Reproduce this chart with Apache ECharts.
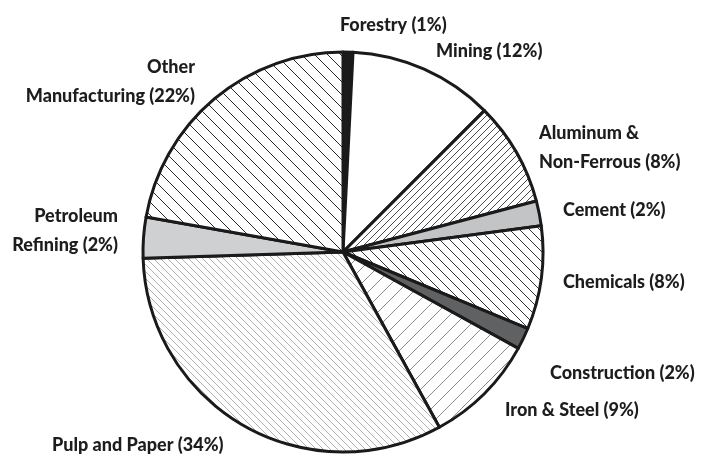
<!DOCTYPE html>
<html>
<head>
<meta charset="utf-8">
<script src="https://cdn.jsdelivr.net/npm/echarts@6/dist/echarts.min.js"></script>
<style>
  html, body { margin: 0; padding: 0; background: #fff; }
  #chart { width: 705px; height: 458px; }
</style>
</head>
<body>
<div id="chart"></div>
<script>
// sectors, clockwise from 12 o'clock
const categories = ['Forestry', 'Mining', 'Aluminum &\nNon-Ferrous', 'Cement', 'Chemicals',
  'Construction', 'Iron & Steel', 'Pulp and Paper', 'Petroleum\nRefining', 'Other\nManufacturing']
// printed percentages
const labelPct = [1, 12, 8, 2, 8, 2, 9, 34, 2, 22]
// arc sizes as drawn in the picture
const values = [0.8, 11.7, 8.4, 2, 8.35, 1.75, 9, 32.5, 3.3, 22.2]

// label anchors [x, y, align]
const labelPos = [
  [340, 25, 'left'], [436, 51, 'left'], [539, 148, 'left'], [563, 210, 'left'],
  [563, 282, 'left'], [550, 373, 'left'], [505, 410, 'left'], [52, 445, 'left'],
  [118, 231, 'right'], [195, 82, 'right']
]

function hatch(n, dir, stroke, w) {
  const c = document.createElement('canvas')
  c.width = n
  c.height = n
  const ctx = c.getContext('2d')
  ctx.fillStyle = '#fff'
  ctx.fillRect(0, 0, n, n)
  ctx.strokeStyle = stroke
  ctx.lineWidth = w
  ctx.beginPath()
  if (dir === '/') {
    ctx.moveTo(-1, n + 1); ctx.lineTo(n + 1, -1)
    ctx.moveTo(-1, 1); ctx.lineTo(1, -1)
    ctx.moveTo(n - 1, n + 1); ctx.lineTo(n + 1, n - 1)
  } else {
    ctx.moveTo(-1, -1); ctx.lineTo(n + 1, n + 1)
    ctx.moveTo(n - 1, -1); ctx.lineTo(n + 1, 1)
    ctx.moveTo(-1, n - 1); ctx.lineTo(1, n + 1)
  }
  ctx.stroke()
  return { image: c, repeat: 'repeat' }
}

const fills = [
  '#1c1a1b',
  '#ffffff',
  hatch(7, '/', '#4a4a4a', 1),
  '#c3c4c6',
  hatch(10, '\\', '#333', 1),
  '#606163',
  hatch(15, '/', '#8a8a8a', 1),
  hatch(7, '\\', '#b0b0b0', 1),
  '#cfd0d2',
  hatch(13, '\\', '#2a2a2a', 1)
]

const chart = echarts.init(document.getElementById('chart'))

chart.setOption({
  animation: false,
  backgroundColor: '#fff',
  series: [{
    type: 'pie',
    center: [343, 252],
    radius: 200,
    startAngle: 90,
    clockwise: true,
    avoidLabelOverlap: false,
    itemStyle: { borderColor: '#1a1a1a', borderWidth: 3 },
    label: {
      show: true,
      position: 'outside',
      fontFamily: 'Lato, Roboto, sans-serif',
      fontWeight: 900,
      fontSize: 18,
      lineHeight: 29,
      color: '#1f1c1d',
      formatter: (p) => `${p.name} (${labelPct[p.dataIndex]}%)`
    },
    labelLine: { show: false },
    labelLayout: (p) => {
      const pos = labelPos[p.dataIndex]
      return { x: pos[0], y: pos[1], align: pos[2], verticalAlign: 'middle' }
    },
    emphasis: { disabled: true },
    data: categories.map((name, i) => ({
      name,
      value: values[i],
      itemStyle: { color: fills[i] }
    }))
  }]
})
</script>
</body>
</html>
